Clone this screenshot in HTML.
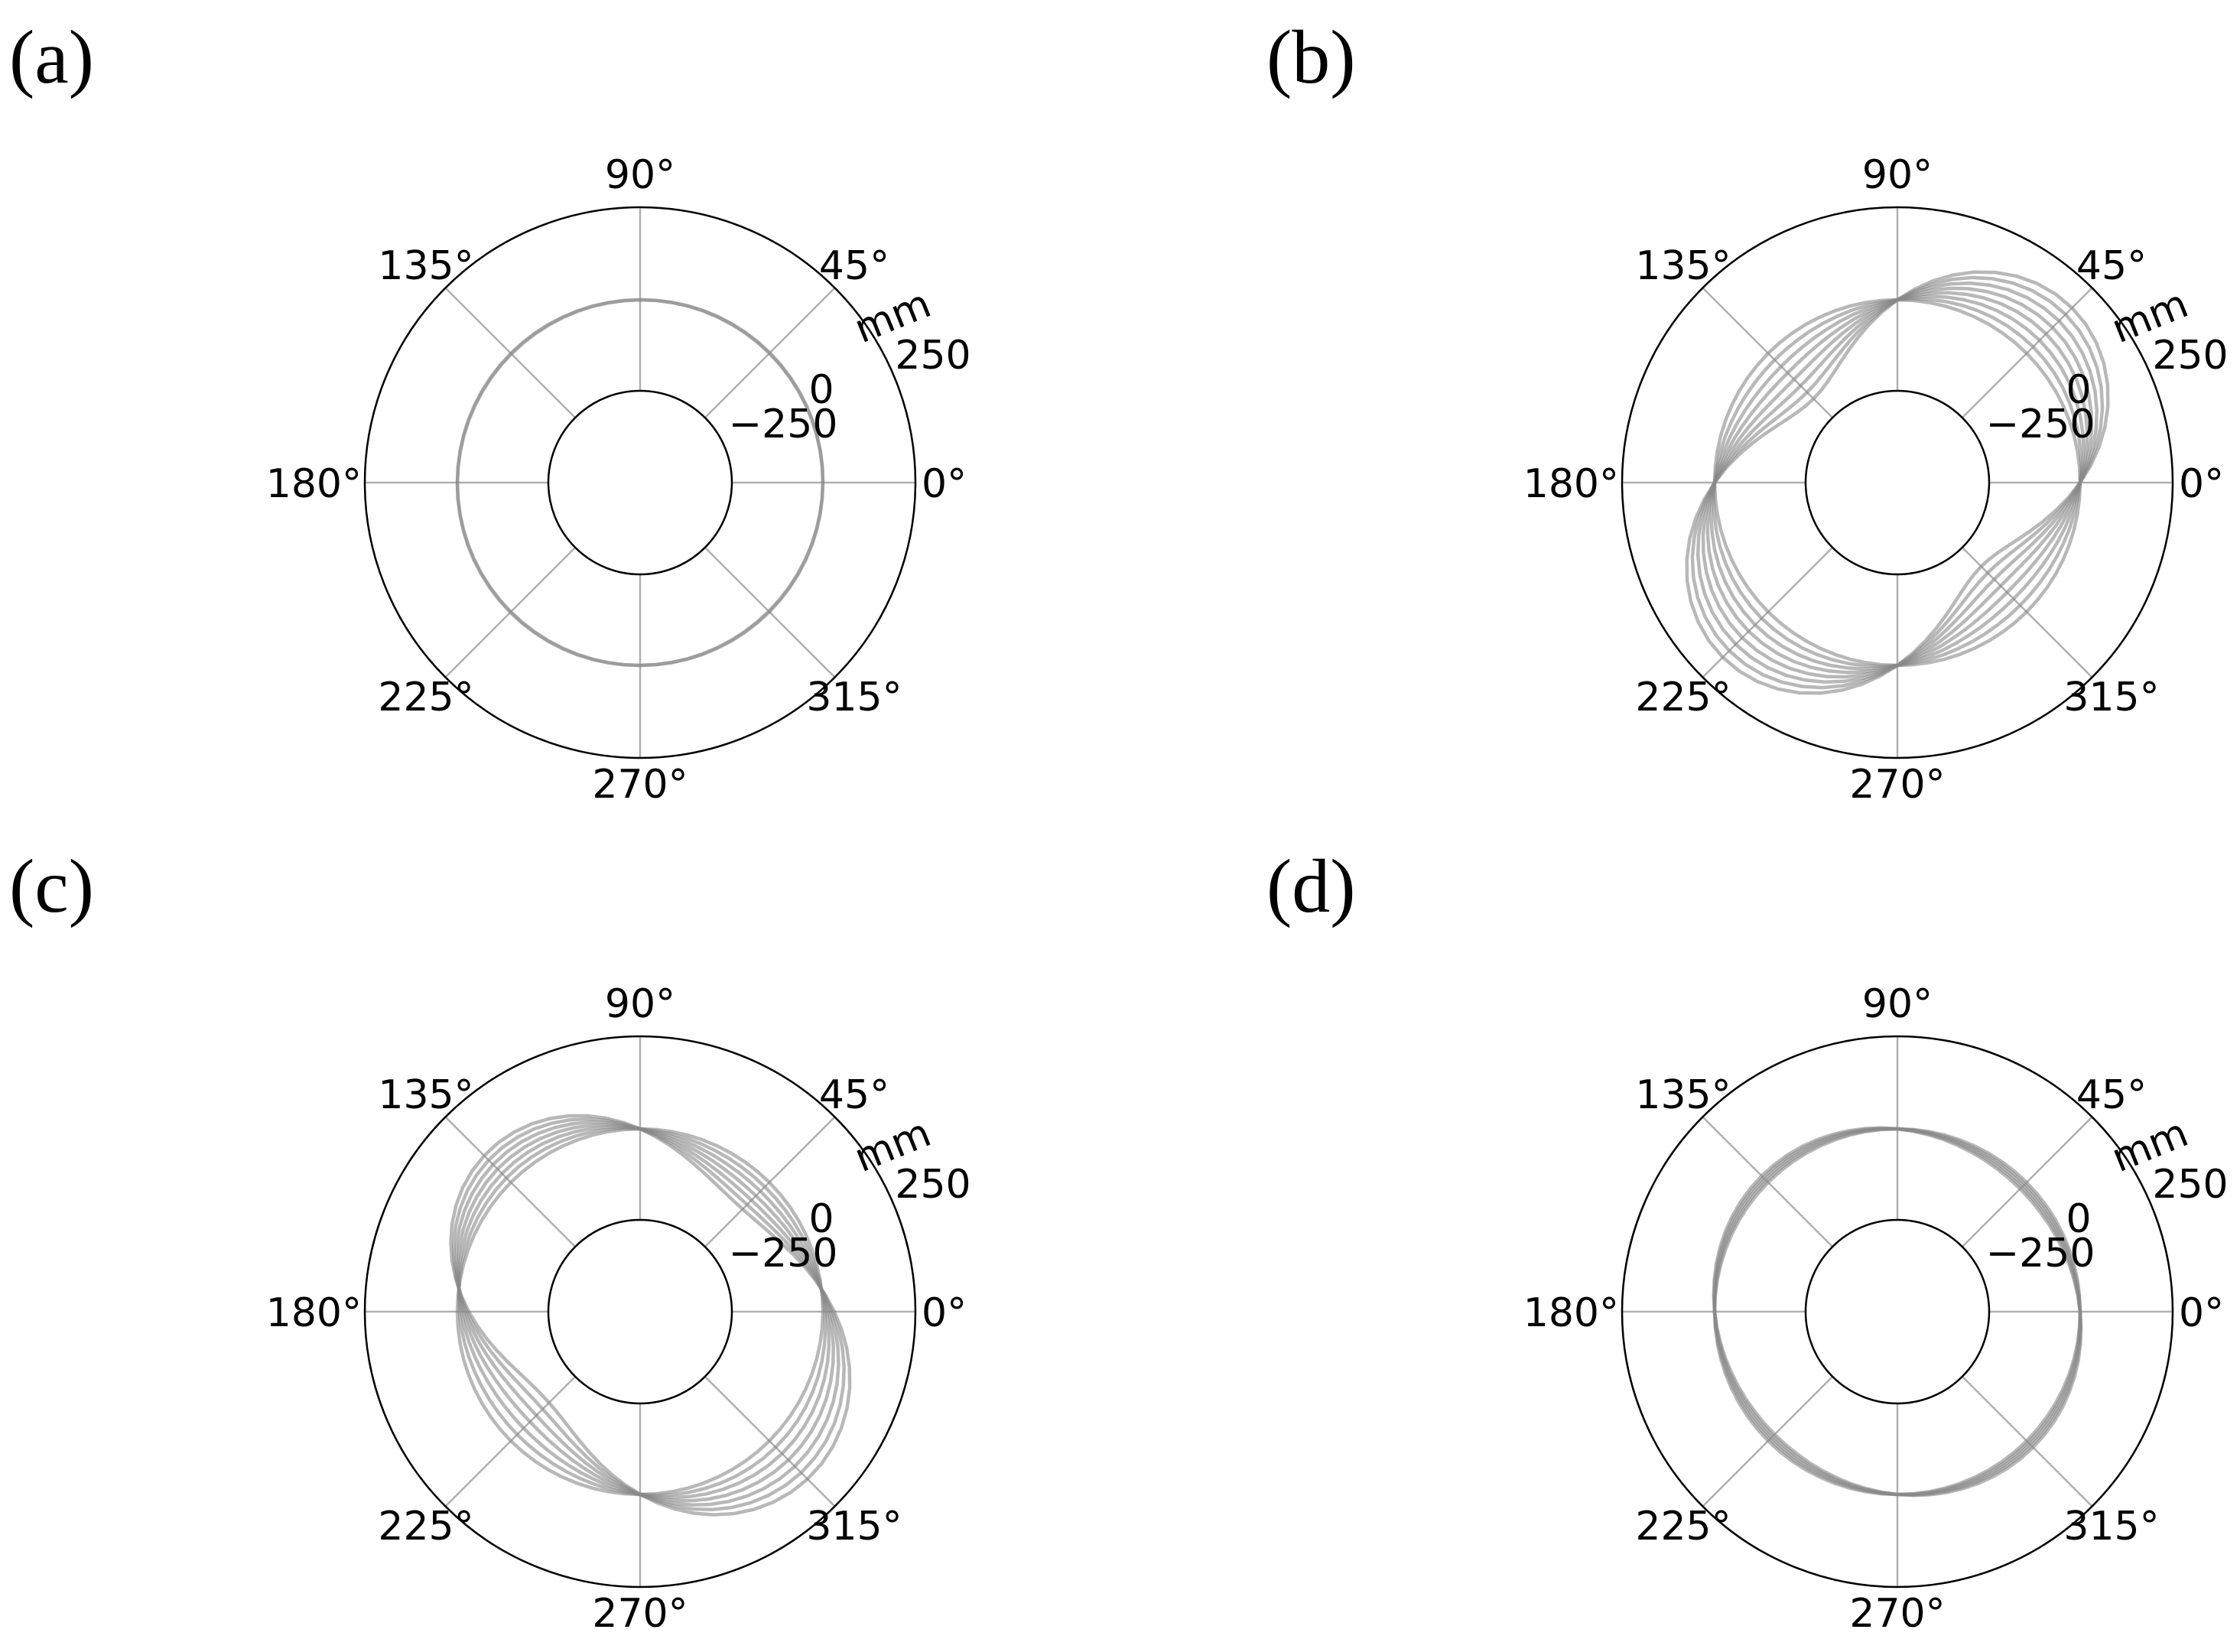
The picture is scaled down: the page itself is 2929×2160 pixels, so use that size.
<!DOCTYPE html>
<html><head><meta charset="utf-8"><style>
html,body{margin:0;padding:0;background:#fff;}
svg{display:block;}
.t{font-family:"DejaVu Sans","Liberation Sans",sans-serif;font-size:52px;fill:#000;}
.p{font-family:"Liberation Serif",serif;font-size:100px;fill:#000;}
</style></head><body>
<svg id="s" width="2929" height="2160" viewBox="0 0 2929 2160" xmlns="http://www.w3.org/2000/svg">
<text class="p" x="12" y="108">(a)</text>
<text class="p" x="1656" y="108">(b)</text>
<text class="p" x="12" y="1192">(c)</text>
<text class="p" x="1656" y="1192">(d)</text>
</svg>
<script>
var s=document.getElementById('s');var NS="http://www.w3.org/2000/svg";
function el(n,a,t){var e=document.createElementNS(NS,n);for(var k in a)e.setAttribute(k,a[k]);if(t)e.textContent=t;s.appendChild(e);return e;}
var R=360,Ri=120,B=239;
var centers=[[837,631,'a'],[2481,631,'b'],[837,1715,'c'],[2481,1715,'d']];
centers.forEach(function(c){
 var cx=c[0],cy=c[1];
 for(var i=0;i<8;i++){var a=i*Math.PI/4;
  el('line',{x1:cx+Ri*Math.cos(a),y1:cy-Ri*Math.sin(a),x2:cx+R*Math.cos(a),y2:cy-R*Math.sin(a),stroke:'#b0b0b0','stroke-width':2.5});}
 el('circle',{cx:cx,cy:cy,r:R,fill:'none',stroke:'#000','stroke-width':2.5});
 el('circle',{cx:cx,cy:cy,r:Ri,fill:'none',stroke:'#000','stroke-width':2.5});
 var amps,sign;
 if(c[2]=='a'){amps=[0,1];sign=1;}
 else if(c[2]=='b'){amps=[0,12,24,36,48,60,72,84];sign=1;}
 else if(c[2]=='c'){amps=[0,10,20,30,40,50,60];sign=-1;}
 else {amps=[0,3,6,9,12];sign=-1;}
 amps.forEach(function(A,j){
  var d='';for(var k=0;k<=72;k++){var t=k*2*Math.PI/72;
   var r=B+sign*A*Math.sin(2*t)+(c[2]=='c'?A*0.25*Math.cos(t):0);
   d+=(k?'L':'M')+(cx+r*Math.cos(t)).toFixed(1)+','+(cy-r*Math.sin(t)).toFixed(1);}
  el('path',{d:d+'Z',fill:'none',stroke:'#888','stroke-opacity':0.6,'stroke-width':4.5});
 });
 function tx(x,y,str,anchor){el('text',{x:cx+x,y:cy+y,'class':'t','text-anchor':anchor||'middle'},str);}
 tx(0,-385,'90°');tx(368,19,'0°','start');tx(-364,19,'180°','end');
 tx(280,-266,'45°');tx(-280,-266,'135°');tx(-280,298,'225°');tx(280,298,'315°');
 tx(0,412,'270°');
 tx(383,-149,'250');tx(237,-104,'0');tx(187,-59,'−250');
 el('text',{x:cx+331,y:cy-200,'class':'t','text-anchor':'middle',transform:'rotate(-22 '+(cx+331)+' '+(cy-215)+')'},'mm');
});
</script>
</body></html>
